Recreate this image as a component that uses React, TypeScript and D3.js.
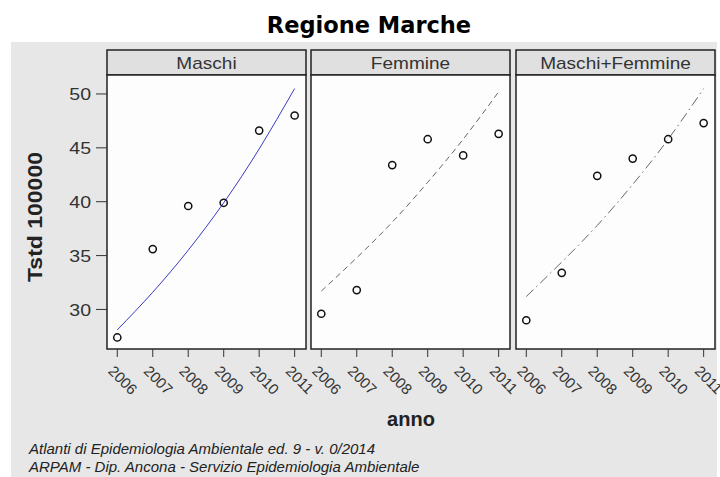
import React from "react";
import * as d3 from "d3";

const years = [2006, 2007, 2008, 2009, 2010, 2011];
const panelNames = ["Maschi", "Femmine", "Maschi+Femmine"];
const maschiObs = [27.4, 35.6, 39.6, 39.9, 46.6, 48.0];
const femmineObs = [29.6, 31.8, 43.4, 45.8, 44.3, 46.3];
const totObs = [29.0, 33.4, 42.4, 44.0, 45.8, 47.3];
const maschiFit = [28.1, 31.6, 35.5, 39.9, 44.9, 50.5];
const femmineFit = [31.7, 34.8, 38.1, 41.8, 45.8, 50.2];
const totFit = [31.2, 34.4, 37.8, 41.6, 45.8, 50.5];
const yTicks = [30, 35, 40, 45, 50];

const panels = [
  { name: panelNames[0], obs: maschiObs, fit: maschiFit, color: "#3a3ac8", dash: "none" },
  { name: panelNames[1], obs: femmineObs, fit: femmineFit, color: "#666", dash: "6,4" },
  { name: panelNames[2], obs: totObs, fit: totFit, color: "#666", dash: "10,4,1.5,4" },
];

const panelLeft = [107, 311, 516];
const panelW = 199;
const stripTop = 50;
const plotTop = 75;
const plotBottom = 349;

export default function App() {
  const y = d3.scaleLinear().domain([26.33, 51.76]).range([plotBottom, plotTop]);
  return (
    <svg width={720} height={477} style={{ position: "absolute", left: 0, top: 0 }} fontFamily="Arial, 'Liberation Sans', sans-serif">
      <rect x={0} y={0} width={720} height={477} fill="#fff" />
      <rect x={11} y={42} width={706} height={435} fill="#e7e7e7" />
      <text x={369} y={33} textAnchor="middle" fontFamily="'DejaVu Sans', Verdana, sans-serif" fontWeight="bold" fontSize={22.5}>
        Regione Marche
      </text>
      {panels.map((p, i) => {
        const left = panelLeft[i];
        const x = d3.scaleLinear().domain([2005.71, 2011.32]).range([left, left + panelW]);
        const line = d3
          .line<number>()
          .x((_, j) => x(years[j]))
          .y((v) => y(v))
          .curve(d3.curveNatural);
        return (
          <g key={p.name}>
            <rect x={left} y={stripTop} width={panelW} height={plotTop - stripTop} fill="#e0e0e0" stroke="#222" strokeWidth={1.5} />
            <text transform={`translate(${left + panelW / 2},69) scale(1.12,1)`} textAnchor="middle" fontSize={17} fill="#333">
              {p.name}
            </text>
            <rect x={left} y={plotTop} width={panelW} height={plotBottom - plotTop} fill="#fdfdfd" stroke="#222" strokeWidth={1.5} />
            <path d={line(p.fit) || ""} fill="none" stroke={p.color} strokeWidth={1} strokeDasharray={p.dash} />
            {p.obs.map((v, j) => (
              <circle key={j} cx={x(years[j])} cy={y(v)} r={3.6} fill="none" stroke="#111" strokeWidth={1.5} />
            ))}
            {years.map((yr) => (
              <g key={yr}>
                <line x1={x(yr)} x2={x(yr)} y1={plotBottom} y2={357} stroke="#333" strokeWidth={1} />
                <text transform={`translate(${x(yr) - 10},372) rotate(45)`} fontSize={15} fill="#333">
                  {yr}
                </text>
              </g>
            ))}
          </g>
        );
      })}
      {yTicks.map((t) => (
        <g key={t}>
          <line x1={96} x2={107} y1={y(t)} y2={y(t)} stroke="#333" strokeWidth={1} />
          <text transform={`translate(91,${y(t)}) scale(1.15,1)`} dy="0.36em" textAnchor="end" fontSize={17} fill="#333">
            {t}
          </text>
        </g>
      ))}
      <text transform={`translate(42,${(plotTop + plotBottom) / 2 + 5}) rotate(-90) scale(1.15,1)`} textAnchor="middle" fontWeight="bold" fontSize={20} fill="#222">
        Tstd 100000
      </text>
      <text x={411} y={426} textAnchor="middle" fontWeight="bold" fontSize={20} fill="#222">
        anno
      </text>
      <text x={29} y={454} fontStyle="italic" fontSize={15} fill="#222">
        Atlanti di Epidemiologia Ambientale ed. 9 - v. 0/2014
      </text>
      <text x={29} y={472} fontStyle="italic" fontSize={15} fill="#222">
        ARPAM - Dip. Ancona - Servizio Epidemiologia Ambientale
      </text>
    </svg>
  );
}
